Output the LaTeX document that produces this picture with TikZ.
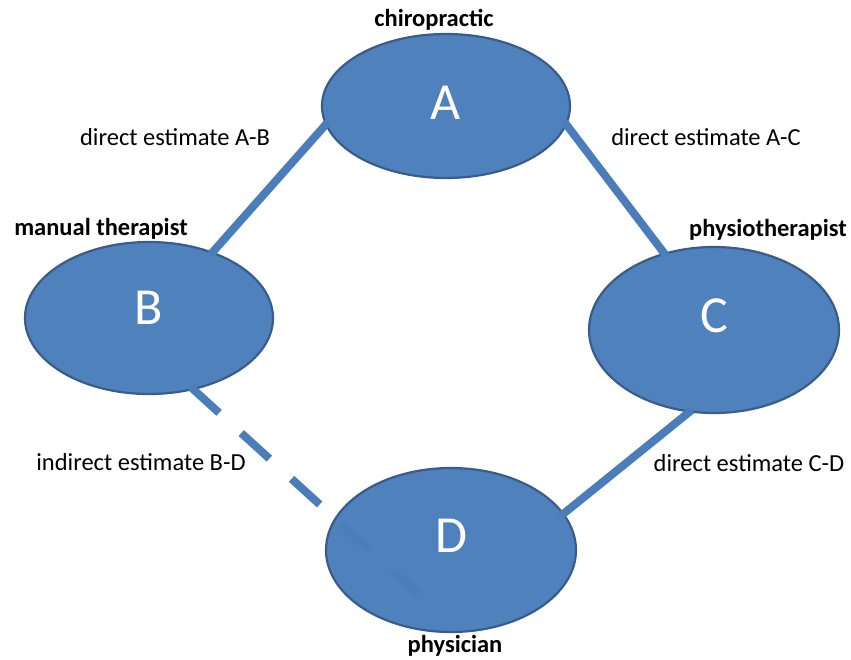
\documentclass[tikz,border=0pt]{standalone}
\usepackage{fontspec}
\setmainfont{Carlito}
\usepackage{xcolor}
\usepackage{tikz}
\usetikzlibrary{shapes,arrows.meta,positioning,calc}

\definecolor{nodeblue}{RGB}{79,129,189}
\definecolor{nodeedge}{RGB}{56,93,138}
\definecolor{linkblue}{RGB}{74,125,186}

\begin{document}
\begin{tikzpicture}[
    x=1pt, y=-1pt,
    group/.style={ellipse, draw=nodeedge, line width=2.2pt, fill=nodeblue, inner sep=0pt,
        text=white, font=\fontsize{52}{56}\selectfont},
    role/.style={font=\fontsize{24.5}{28}\selectfont\bfseries, inner sep=0pt},
    estimate/.style={font=\fontsize{24.5}{28}\selectfont, inner sep=0pt},
    link/.style={linkblue, line width=8pt, shorten <=-4pt, shorten >=-4pt},
]
\useasboundingbox (0,0) rectangle (851,659);

% the four groups
\node[group, minimum width=248pt, minimum height=144pt, text depth=6pt]  (A) at (446,106) {A};
\node[group, minimum width=248pt, minimum height=152pt, text depth=20pt] (B) at (149,318) {B};
\node[group, minimum width=250pt, minimum height=166pt, text depth=28pt] (C) at (714,330) {C};
\node[group, minimum width=250pt, minimum height=164pt, text depth=28pt] (D) at (451,550) {D};

\node[role] (chiro)  at (434,20)  {chiropractic};
\node[role] (manual) at (101,229) {manual therapist};
\node[role] (physio) at (768,230) {physiotherapist};
\node[role] (phys)   at (455,646) {physician};

\node[estimate] (estAB) at (175,137) {direct estimate A-B};
\node[estimate] (estAC) at (706,137) {direct estimate A-C};
\node[estimate] (estBD) at (141,462) {indirect estimate B-D};
\node[estimate] (estCD) at (749,463) {direct estimate C-D};

% comparisons
\draw[link] (B.46) -- (A.189);
\draw[link] (A.351) -- (C.123);
\draw[link] (C.253) -- (D.18);
\coordinate (bdEnd) at ($(D.center)+(-33,44)$);
\draw[link, shorten >=0pt, dash pattern=on 38pt off 30pt] (B.302) -- (bdEnd);
\end{tikzpicture}
\end{document}
